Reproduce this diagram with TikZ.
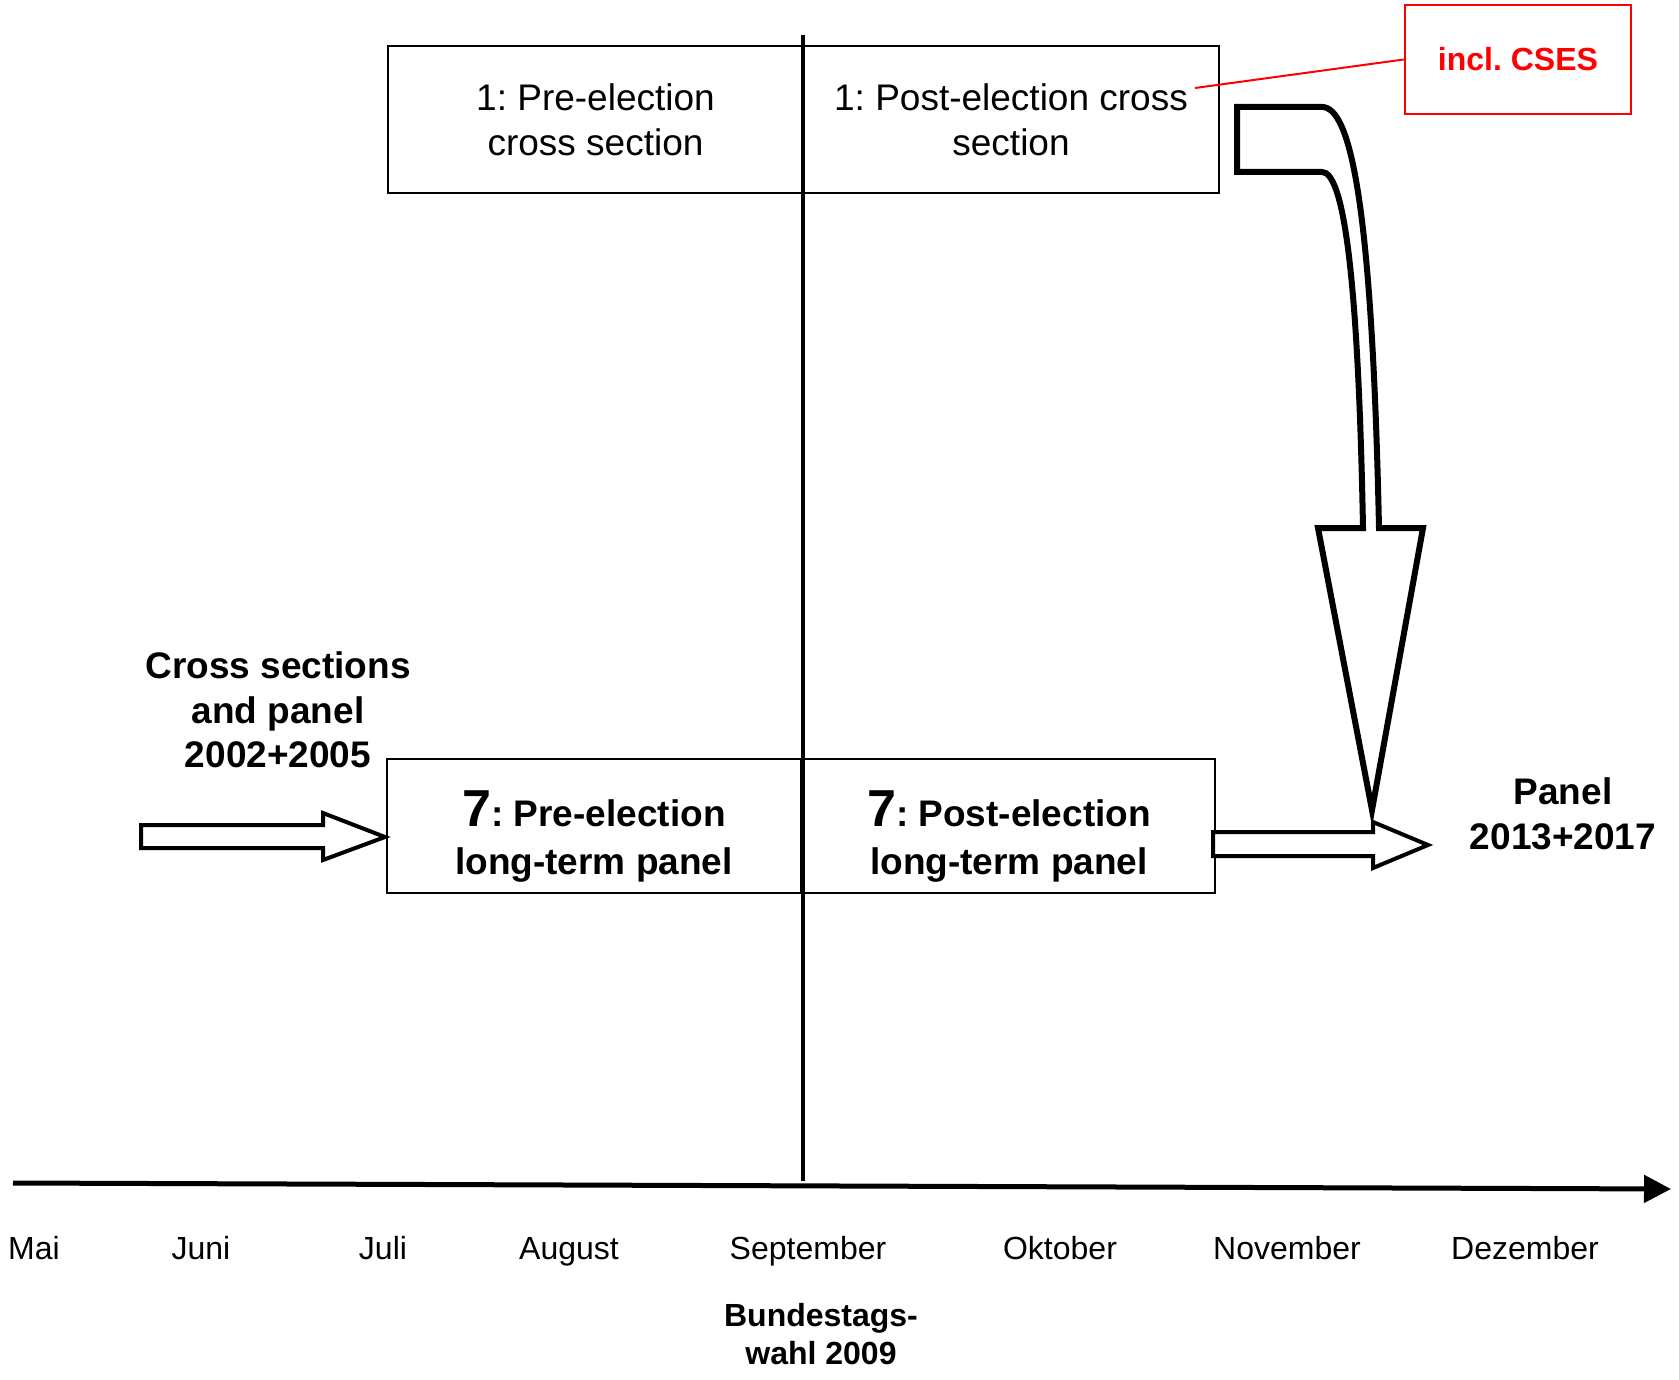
\documentclass[tikz,border=0pt]{standalone}
\usepackage{fontspec}
\setmainfont{Liberation Sans}
\frenchspacing
\usepackage{tikz}
\usetikzlibrary{positioning}
\usetikzlibrary{arrows.meta}

\definecolor{csesred}{RGB}{255,0,0}

\tikzset{
  box/.style={draw, line width=1.5pt, inner sep=0pt},
  crosstext/.style={font=\fontsize{37}{45}\selectfont, align=center},
  paneltext/.style={font=\bfseries\fontsize{37}{48}\selectfont, align=center},
  sidetext/.style={font=\bfseries\fontsize{37}{44.5}\selectfont, align=center},
  month/.style={font=\fontsize{32}{38}\selectfont, anchor=base},
  blockarrow/.style={draw, line width=4pt, fill=white, line join=miter},
}

\begin{document}
\begin{tikzpicture}[x=1pt,y=-1pt]
    \useasboundingbox (0,0) rectangle (1679,1380);
    % cross sections
    \node[box, crosstext, minimum width=415pt, minimum height=147pt] (preX) at (595.5,119.5) {1: Pre-election\\cross section};
    \node[box, crosstext, minimum width=416pt, minimum height=147pt] (postX) at (1011,119.5) {1: Post-election cross\\section};
    % long-term panel
    \node[box, paneltext, minimum width=414pt, minimum height=134pt] (preP) at (594,826) {\rule{0pt}{56pt}{\fontsize{52}{48}\selectfont 7}: Pre-election\\long-term panel};
    \node[box, paneltext, minimum width=412pt, minimum height=134pt] (postP) at (1009,826) {\rule{0pt}{56pt}{\fontsize{52}{48}\selectfont 7}: Post-election\\long-term panel};
    % election day and time axis
    \coordinate (elecTop) at (803,35);
    \coordinate (elecBot) at (803,1181);
    \draw[line width=3.5pt] (elecTop) -- (elecBot);
    \coordinate (axisL) at (13,1183);
    \coordinate (axisR) at (1671,1189);
    \draw[line width=5pt, -{Triangle[length=27pt,width=27pt]}] (axisL) -- (axisR);
    \foreach \m/\x in {Mai/34, Juni/201, Juli/383, August/569, September/808, Oktober/1060, November/1287, Dezember/1525}
        \node[month] (\m) at (\x,1259) {\m};
    \node[font=\bfseries\fontsize{32}{37.5}\selectfont, align=center] (wahl) at (821,1334) {Bundestags-\\wahl 2009};
    % earlier and later studies
    \node[sidetext] (before) at (278,710) {Cross sections\\and panel\\2002+2005};
    \node[sidetext] (after) at (1563,814) {Panel\\2013+2017};
    \draw[blockarrow] (141,825) -- (323,825) -- (323,813) -- (385,837) -- (323,860) -- (323,848) -- (141,848) -- cycle;
    \draw[blockarrow] (1213,832) -- (1373,832) -- (1373,822) -- (1428,845) -- (1373,868) -- (1373,856) -- (1213,856) -- cycle;
    % CSES
    \node[draw=csesred, line width=2.5pt, text=csesred, font=\bfseries\fontsize{32}{38}\selectfont, minimum width=226pt, minimum height=109pt] (cses) at (1518,59.5) {incl. CSES};
    \coordinate (csesPt) at (1195,88);
    \draw[csesred, line width=2pt] (csesPt) -- (cses.west);
    % bent arrow into the panel
    \draw[line width=6pt, fill=white, line join=miter]
        (1237,107) -- (1322,107) .. controls (1350,107) and (1372,200) .. (1379,528)
        -- (1423,528) -- (1372,810) -- (1318,528) -- (1363,528)
        .. controls (1358,260) and (1342,172) .. (1322,172) -- (1237,172) -- cycle;
\end{tikzpicture}
\end{document}
